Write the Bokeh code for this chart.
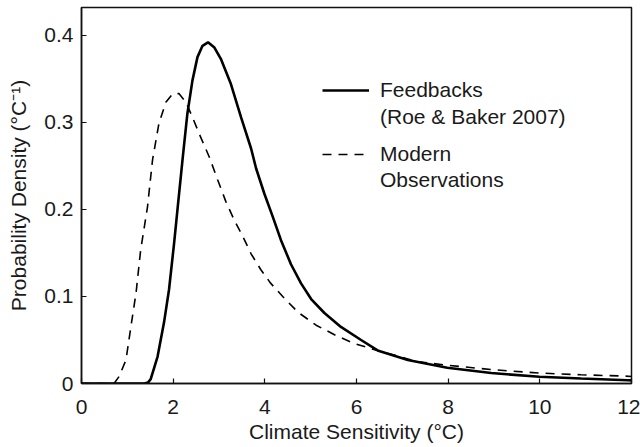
from bokeh.plotting import figure
from bokeh.models import Range1d, FixedTicker, Legend, LegendItem
from bokeh.embed import file_html
from bokeh.resources import INLINE

# Feedbacks (Roe & Baker 2007)
fb_x = [0, 1.37, 1.45, 1.51, 1.66, 1.80, 1.91, 2.02, 2.10, 2.21, 2.31, 2.42, 2.53, 2.64,
        2.76, 2.90, 3.04, 3.26, 3.48, 3.70, 3.81, 3.99, 4.17, 4.35, 4.57, 4.79, 5.01,
        5.30, 5.66, 6.10, 6.46, 7.12, 7.98, 8.94, 9.99, 10.9, 11.92, 12.0]
fb_y = [0, 0, 0.001, 0.005, 0.031, 0.070, 0.108, 0.161, 0.203, 0.260, 0.310, 0.348, 0.375, 0.388,
        0.392, 0.386, 0.373, 0.344, 0.306, 0.270, 0.247, 0.218, 0.192, 0.165, 0.137, 0.115, 0.097,
        0.081, 0.065, 0.050, 0.038, 0.027, 0.018, 0.012, 0.0077, 0.0057, 0.0038, 0.0036]

# Modern Observations
mo_x = [0, 0.71, 0.82, 0.97, 1.08, 1.19, 1.29, 1.44, 1.55, 1.69, 1.84, 1.99, 2.13,
        2.28, 2.42, 2.60, 2.79, 2.97, 3.15, 3.33, 3.52, 3.70, 3.91, 4.13, 4.39, 4.72,
        5.12, 5.52, 5.95, 6.32, 7.34, 7.98, 8.94, 9.99, 10.9, 11.85, 12.0]
mo_y = [0, 0, 0.008, 0.027, 0.066, 0.104, 0.153, 0.203, 0.257, 0.299, 0.323, 0.333, 0.333,
        0.323, 0.306, 0.283, 0.260, 0.234, 0.209, 0.188, 0.169, 0.149, 0.131, 0.115, 0.100, 0.082,
        0.067, 0.056, 0.046, 0.040, 0.025, 0.021, 0.016, 0.012, 0.010, 0.0085, 0.008]

x_ticks = [0, 2, 4, 6, 8, 10, 12]
y_ticks = [0, 0.1, 0.2, 0.3, 0.4]
y_tick_labels = ["0", "0.1", "0.2", "0.3", "0.4"]
legend_1 = ["Feedbacks", "(Roe & Baker 2007)"]
legend_2 = ["Modern", "Observations"]

FONT = "Liberation Sans"
TXT = "#1a1a1a"
FS = "21px"

p = figure(width=640, height=447, output_backend="svg", toolbar_location=None,
           x_range=Range1d(0, 12), y_range=Range1d(0, 0.432),
           min_border_left=81, min_border_right=9, min_border_top=7, min_border_bottom=64)
p.background_fill_color = "white"
p.border_fill_color = "white"
p.grid.visible = False
p.outline_line_color = "#111111"
p.outline_line_width = 1.5

r1 = p.line(fb_x, fb_y, line_color="black", line_width=2.6)
r2 = p.line(mo_x, mo_y, line_color="black", line_width=1.6, line_dash="9 7")
# invisible renderer used only for the second (continuation) line of each legend entry
blank = p.line(fb_x, fb_y, line_alpha=0)

for ax in (p.xaxis[0], p.yaxis[0]):
    ax.axis_line_color = "#111111"
    ax.axis_line_width = 1.5
    ax.major_tick_in = 5
    ax.major_tick_out = 0
    ax.major_tick_line_color = "#111111"
    ax.major_tick_line_width = 1.2
    ax.minor_tick_line_color = None
    ax.major_label_text_font = FONT
    ax.major_label_text_font_size = FS
    ax.major_label_text_color = TXT
    ax.axis_label_text_font = FONT
    ax.axis_label_text_font_size = FS
    ax.axis_label_text_font_style = "normal"
    ax.axis_label_text_color = TXT

p.xaxis.ticker = FixedTicker(ticks=x_ticks)
p.yaxis.ticker = FixedTicker(ticks=y_ticks)
p.yaxis.major_label_overrides = {t: l for t, l in zip(y_ticks, y_tick_labels)}
p.xaxis.axis_label = "Climate Sensitivity (°C)"
p.yaxis.axis_label = "Probability Density (°C⁻¹)"
p.xaxis.major_label_standoff = 16
p.xaxis.axis_label_standoff = 3
p.yaxis.major_label_standoff = 8
p.yaxis.axis_label_standoff = 11

common = dict(orientation="vertical", glyph_width=47, glyph_height=20, label_standoff=11,
              padding=0, margin=0, border_line_color=None, background_fill_alpha=0,
              label_text_font=FONT, label_text_font_size=FS, label_text_color=TXT)

leg1 = Legend(items=[LegendItem(label=legend_1[0], renderers=[r1]),
                     LegendItem(label=legend_1[1], renderers=[blank])],
              location=(241, 254), spacing=3, **common)
leg2 = Legend(items=[LegendItem(label=legend_2[0], renderers=[r2]),
                     LegendItem(label=legend_2[1], renderers=[blank])],
              location=(241, 191), spacing=2, **common)
p.add_layout(leg1)
p.add_layout(leg2)

open("out.html", "w").write(file_html(p, INLINE))
